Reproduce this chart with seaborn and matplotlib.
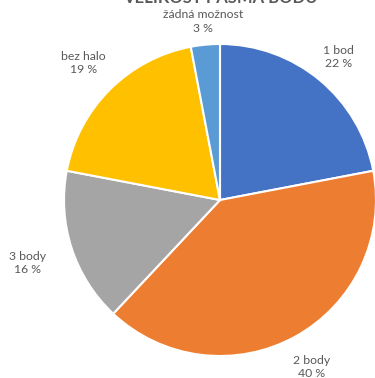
import matplotlib
matplotlib.use("Agg")
import matplotlib.pyplot as plt
import seaborn as sns
import numpy as np

categories = ["1 bod", "2 body", "3 body", "bez halo", "žádná možnost"]
shares = [22, 40, 16, 19, 3]
title = "VELIKOST PÁSMA BODŮ"

sns.set_theme(style="white")
plt.rcParams["font.family"] = ["Lato", "DejaVu Sans"]
palette = sns.color_palette(["#4472C4", "#ED7D31", "#A5A5A5", "#FFC000", "#5B9BD5"])

W, H = 375, 378
fig = plt.figure(figsize=(W / 100, H / 100), dpi=100)
fig.patch.set_facecolor("white")

cx, cy, r = 220, 200, 156
ax = fig.add_axes([(cx - r) / W, (H - cy - r) / H, 2 * r / W, 2 * r / H])

wedges, _ = ax.pie(shares, colors=palette, startangle=90, counterclock=False,
                   radius=1.0, wedgeprops=dict(edgecolor="white", linewidth=1.5))
ax.set_xlim(-1, 1)
ax.set_ylim(-1, 1)
ax.set_aspect("equal")
ax.axis("off")

# label distance from centre, in radii, per slice
label_dist = [1.19, 1.22, 1.30, 1.24, 1.15]
for w, name, val, d in zip(wedges, categories, shares, label_dist):
    ang = np.deg2rad((w.theta1 + w.theta2) / 2)
    ax.text(d * np.cos(ang), d * np.sin(ang), f"{name}\n{val} %",
            ha="center", va="center", fontsize=8.8, color="#595959",
            linespacing=1.25, clip_on=False)

fig.text(cx / W, 1 - 3 / H, title, ha="center", va="baseline",
         fontsize=12, fontweight="bold", color="#595959")

fig.savefig("out.png", dpi=100)
